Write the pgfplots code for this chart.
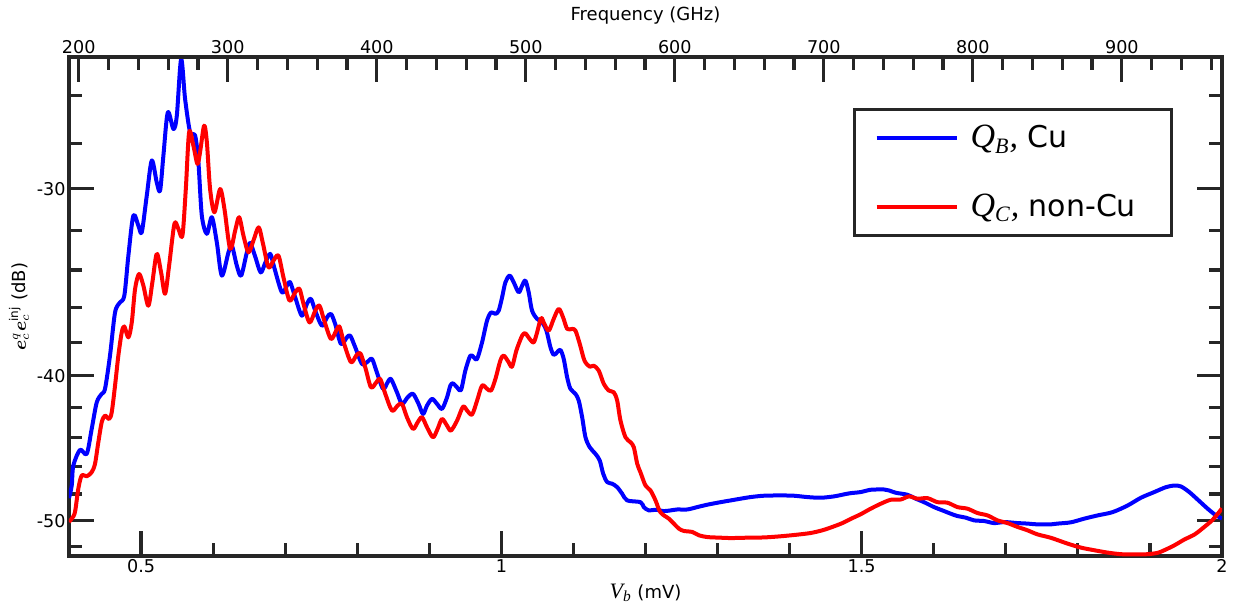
\documentclass[border=0pt]{standalone}
\usepackage{amsmath}
\usepackage{fontspec}
\setmainfont{DejaVu Sans}
\newfontfamily\tms{Liberation Serif}
\usepackage{pgfplots}
\usepackage{pgfplotstable}
\pgfplotsset{compat=1.18}
\definecolor{axiscol}{RGB}{38,38,38}

\pgfplotstableread{
V dB
0.4000 -48.30
0.4038 -47.37
0.4060 -45.94
0.4153 -44.84
0.4246 -45.12
0.4315 -43.42
0.4385 -41.68
0.4454 -41.14
0.4500 -40.82
0.4569 -38.79
0.4639 -36.30
0.4708 -35.74
0.4768 -35.37
0.4824 -33.26
0.4893 -31.27
0.4963 -31.76
0.5010 -32.08
0.5079 -30.33
0.5149 -28.73
0.5218 -29.72
0.5264 -30.09
0.5310 -28.51
0.5371 -26.68
0.5449 -27.37
0.5496 -26.82
0.5556 -24.58
0.5611 -26.13
0.5681 -27.51
0.5750 -27.65
0.5796 -28.81
0.5843 -31.27
0.5913 -32.16
0.5982 -31.35
0.6051 -32.58
0.6121 -34.30
0.6213 -33.09
0.6260 -32.75
0.6329 -33.78
0.6389 -34.30
0.6468 -33.09
0.6514 -32.62
0.6583 -33.30
0.6660 -34.13
0.6722 -33.64
0.6792 -33.17
0.6847 -33.86
0.6954 -35.19
0.7024 -34.83
0.7069 -34.65
0.7139 -35.46
0.7232 -36.48
0.7301 -35.82
0.7357 -35.55
0.7417 -36.20
0.7510 -37.05
0.7579 -36.58
0.7635 -36.38
0.7694 -36.95
0.7774 -38.10
0.7857 -37.72
0.7903 -37.62
0.7972 -38.30
0.8065 -39.29
0.8135 -39.19
0.8204 -38.99
0.8264 -39.70
0.8357 -40.82
0.8421 -40.42
0.8468 -40.21
0.8551 -41.04
0.8621 -41.78
0.8699 -41.36
0.8774 -41.14
0.8851 -41.78
0.8913 -42.43
0.8968 -41.89
0.9038 -41.46
0.9107 -41.78
0.9176 -42.10
0.9246 -41.36
0.9292 -40.62
0.9329 -40.48
0.9385 -40.73
0.9440 -40.89
0.9500 -39.70
0.9569 -38.79
0.9615 -38.89
0.9663 -38.99
0.9732 -38.01
0.9801 -36.76
0.9857 -36.30
0.9917 -36.38
0.9963 -36.20
1.0010 -35.46
1.0056 -34.65
1.0115 -34.30
1.0171 -34.65
1.0240 -35.19
1.0288 -34.83
1.0333 -34.56
1.0379 -35.19
1.0426 -36.20
1.0496 -36.66
1.0565 -36.86
1.0625 -37.33
1.0681 -38.30
1.0726 -38.75
1.0774 -38.59
1.0819 -38.45
1.0865 -38.99
1.0913 -40.11
1.0958 -40.82
1.1028 -41.14
1.1074 -41.57
1.1121 -42.65
1.1167 -43.98
1.1226 -44.66
1.1306 -45.12
1.1365 -45.58
1.1413 -46.52
1.1468 -47.12
1.1538 -47.24
1.1607 -47.49
1.1676 -47.97
1.1746 -48.47
1.1931 -48.60
1.1976 -48.97
1.2046 -49.22
1.2139 -49.17
1.2254 -49.27
1.2347 -49.22
1.2440 -49.15
1.2579 -49.15
1.2718 -48.97
1.2857 -48.79
1.3042 -48.60
1.3181 -48.47
1.3319 -48.34
1.3458 -48.22
1.3643 -48.12
1.3875 -48.10
1.4060 -48.12
1.4246 -48.22
1.4431 -48.27
1.4615 -48.17
1.4754 -48.02
1.4847 -47.93
1.4986 -47.85
1.5125 -47.68
1.5310 -47.66
1.5379 -47.73
1.5472 -47.90
1.5635 -48.05
1.5750 -48.34
1.5865 -48.60
1.6004 -48.97
1.6121 -49.22
1.6236 -49.47
1.6329 -49.65
1.6444 -49.77
1.6560 -49.98
1.6699 -50.03
1.6838 -50.19
1.6976 -50.11
1.7163 -50.19
1.7301 -50.23
1.7440 -50.29
1.7625 -50.29
1.7718 -50.23
1.7903 -50.13
1.8088 -49.85
1.8274 -49.60
1.8482 -49.35
1.8690 -48.85
1.8875 -48.27
1.9060 -47.85
1.9222 -47.49
1.9338 -47.37
1.9431 -47.44
1.9546 -47.85
1.9663 -48.41
1.9801 -49.09
1.9917 -49.60
2.0000 -49.83
}\bluedata

\pgfplotstableread{
V dB
0.4000 -50.10
0.4038 -49.85
0.4083 -49.35
0.4129 -47.61
0.4176 -46.65
0.4246 -46.70
0.4315 -46.41
0.4361 -45.81
0.4407 -44.32
0.4454 -42.98
0.4500 -42.54
0.4556 -42.76
0.4593 -42.32
0.4639 -40.62
0.4685 -38.79
0.4732 -37.43
0.4768 -37.09
0.4824 -37.72
0.4871 -36.86
0.4917 -35.01
0.4972 -34.21
0.5032 -34.83
0.5101 -35.92
0.5157 -34.65
0.5218 -33.17
0.5278 -34.13
0.5333 -35.27
0.5389 -33.78
0.5463 -31.67
0.5518 -31.92
0.5574 -32.25
0.5621 -30.02
0.5667 -27.51
0.5726 -28.08
0.5782 -28.88
0.5819 -28.36
0.5875 -27.23
0.5913 -27.93
0.5958 -30.02
0.6018 -31.11
0.6097 -30.02
0.6157 -30.95
0.6236 -32.91
0.6306 -32.00
0.6361 -31.35
0.6421 -32.25
0.6490 -33.09
0.6560 -32.49
0.6632 -31.84
0.6690 -32.62
0.6768 -33.86
0.6838 -33.51
0.6907 -33.26
0.6976 -34.39
0.7060 -35.64
0.7139 -35.19
0.7199 -35.01
0.7254 -35.82
0.7338 -36.86
0.7417 -36.20
0.7476 -35.92
0.7542 -36.76
0.7635 -37.81
0.7708 -37.33
0.7754 -37.10
0.7819 -38.10
0.7913 -39.19
0.7986 -38.79
0.8042 -38.65
0.8111 -39.50
0.8190 -40.72
0.8264 -40.42
0.8319 -40.21
0.8389 -41.14
0.8482 -42.21
0.8560 -41.89
0.8621 -41.78
0.8690 -42.65
0.8774 -43.42
0.8838 -42.98
0.8899 -42.65
0.8968 -43.31
0.9051 -43.98
0.9115 -43.42
0.9176 -42.76
0.9246 -43.20
0.9300 -43.53
0.9385 -42.87
0.9468 -41.96
0.9524 -42.21
0.9593 -42.47
0.9663 -41.57
0.9732 -40.62
0.9801 -40.82
0.9857 -40.93
0.9917 -40.21
0.9986 -39.09
1.0032 -38.79
1.0101 -39.19
1.0149 -39.46
1.0208 -38.49
1.0288 -37.62
1.0333 -37.49
1.0393 -37.81
1.0449 -38.01
1.0496 -37.43
1.0551 -36.61
1.0597 -36.95
1.0657 -37.33
1.0726 -36.66
1.0796 -36.10
1.0857 -36.58
1.0913 -37.23
1.0982 -37.23
1.1028 -37.33
1.1088 -38.10
1.1153 -39.09
1.1226 -39.46
1.1282 -39.40
1.1351 -39.70
1.1421 -40.51
1.1490 -40.93
1.1560 -41.04
1.1607 -41.57
1.1653 -42.87
1.1722 -43.98
1.1792 -44.32
1.1838 -44.66
1.1885 -45.81
1.1931 -46.43
1.2000 -47.37
1.2069 -47.73
1.2139 -48.47
1.2208 -49.37
1.2324 -49.85
1.2393 -50.23
1.2463 -50.62
1.2532 -50.80
1.2649 -50.88
1.2740 -51.14
1.2857 -51.28
1.3042 -51.33
1.3181 -51.36
1.3413 -51.33
1.3643 -51.31
1.3875 -51.22
1.4107 -51.09
1.4292 -50.96
1.4454 -50.75
1.4593 -50.49
1.4732 -50.19
1.4847 -49.87
1.4986 -49.51
1.5125 -49.09
1.5264 -48.72
1.5403 -48.42
1.5542 -48.40
1.5657 -48.17
1.5774 -48.34
1.5913 -48.30
1.6051 -48.60
1.6190 -48.64
1.6329 -48.97
1.6468 -49.09
1.6607 -49.42
1.6746 -49.60
1.6885 -49.98
1.7024 -50.19
1.7163 -50.49
1.7301 -50.75
1.7440 -51.07
1.7625 -51.34
1.7857 -51.80
1.8042 -52.12
1.8226 -52.33
1.8412 -52.52
1.8597 -52.65
1.8782 -52.67
1.8968 -52.65
1.9107 -52.54
1.9199 -52.33
1.9338 -51.94
1.9476 -51.48
1.9621 -51.07
1.9754 -50.49
1.9871 -49.93
1.9986 -49.17
2.0000 -49.05
}\reddata

\begin{document}
\begin{tikzpicture}
\pgfplotsset{
  myticks/.style={
    scale only axis, width=576.5pt, height=249.5pt,
    axis line style={axiscol, line width=2pt},
    tick align=inside,
    major tick length=12.5pt, minor tick length=6.5pt,
    every tick/.style={axiscol, line width=1.6pt},
    tick label style={font=\fontsize{8.8}{10}\selectfont, text=black, inner sep=1.5pt},
    label style={font=\fontsize{9}{11}\selectfont},
  }
}
\begin{axis}[myticks,
  xmin=0.4, xmax=2.0,
  ymode=log, y dir=reverse, ymin=24.5, ymax=52.8,
  xtick={0.5,1,1.5,2}, xticklabels={0.5,1,1.5,2},
  minor xtick={0.6,0.7,0.8,0.9,1.1,1.2,1.3,1.4,1.6,1.7,1.8,1.9},
  xtick pos=left,
  ytick={30,40,50}, yticklabels={-30,-40,-50},
  minor ytick={26,28,32,34,36,38,42,44,46,48,52},
  ytick pos=both, yticklabel pos=left,
  xlabel={{\tms\itshape\fontsize{11}{12}\selectfont V\textsubscript{b}} (mV)},
  xlabel style={at={(axis description cs:0.5,0)}, anchor=center, yshift=-18.5pt},
  ylabel={$\boldsymbol{e}_c^{q}\boldsymbol{e}_c^{\mathrm{inj}}$ (dB)},
  ylabel style={at={(axis description cs:-0.0434,0.5)}, anchor=center},
  legend style={at={(0.680,0.898)}, anchor=north west, draw=axiscol, line width=1.5pt,
    fill=white, inner xsep=10pt, inner ysep=6pt, row sep=17.5pt,
    font=\fontsize{15}{16}\selectfont,
    cells={anchor=west}},
  legend image code/.code={\draw[#1, line width=2pt] (0pt,0pt) -- (40pt,0pt); \path (44pt,0pt);},
]
\addplot[blue, line width=2pt, smooth, tension=0.5, line join=round] table[x=V, y expr=-\thisrow{dB}] {\bluedata};
\addlegendentry{\makebox[88.5pt][l]{{\tms\itshape\fontsize{17}{17}\selectfont Q\textsubscript{\fontsize{11}{11}\selectfont B},} Cu}}
\addplot[red, line width=2pt, smooth, tension=0.5, line join=round] table[x=V, y expr=-\thisrow{dB}] {\reddata};
\addlegendentry{\makebox[88.5pt][l]{{\tms\itshape\fontsize{17}{17}\selectfont Q\textsubscript{\fontsize{11}{11}\selectfont C},} non-Cu}}
\end{axis}
\begin{axis}[myticks,
  xmin=193.44, xmax=967.2, ymin=0, ymax=1,
  axis x line*=top, hide y axis,
  xtick={200,300,400,500,600,700,800,900},
  xticklabels={200,300,400,500,600,700,800,900},
  minor xtick={220,240,...,960},
  xlabel={Frequency (GHz)},
  xlabel style={at={(axis description cs:0.5,1)}, anchor=center, yshift=20.5pt},
]
\end{axis}
\pgfresetboundingbox
\path[use as bounding box] (-34.5pt,-26.5pt) rectangle (582pt,278pt);
\end{tikzpicture}
\end{document}
